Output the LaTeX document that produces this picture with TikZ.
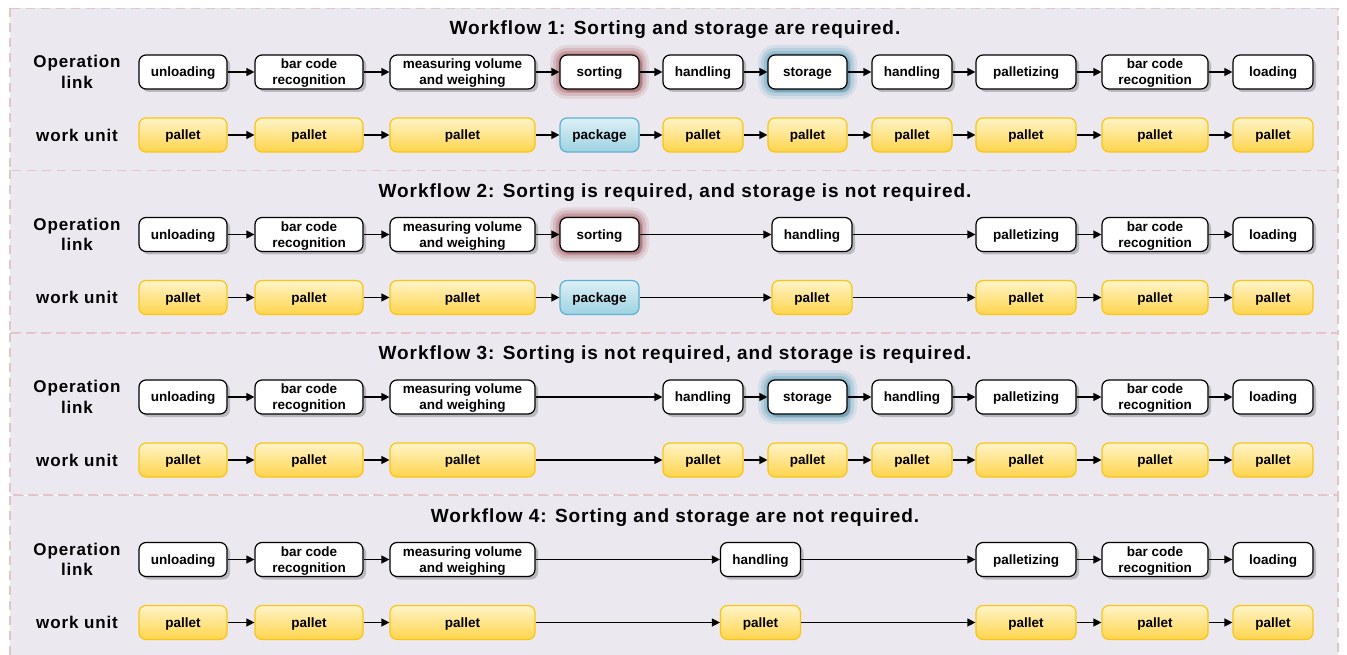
\documentclass[tikz,border=0pt]{standalone}
\usepackage{fontspec}
\setmainfont{Liberation Sans}
\newfontfamily\labfont[LetterSpace=5]{Liberation Sans}
\newfontfamily\ttlfont[LetterSpace=5]{Liberation Sans}
\usetikzlibrary{shadows,arrows.meta}

\definecolor{panelbg}{RGB}{235,232,240}
\definecolor{paneldash}{RGB}{228,196,198}
\definecolor{unittop}{RGB}{255,244,200}
\definecolor{unitbot}{RGB}{255,212,76}
\definecolor{unitline}{RGB}{250,196,20}
\definecolor{pkgtop}{RGB}{220,240,246}
\definecolor{pkgbot}{RGB}{158,210,226}
\definecolor{pkgline}{RGB}{92,178,208}
\definecolor{sortglow}{RGB}{160,70,70}
\definecolor{storeglow}{RGB}{60,145,175}

\tikzset{
  panel/.style={fill=panelbg, draw=paneldash, line width=1.2pt, dash pattern=on 9pt off 6pt},
  box/.style={rounded corners=7pt, minimum height=34pt, inner sep=2pt, align=center,
    text depth=0pt, font=\fontsize{13.5}{16}\selectfont\bfseries},
  op/.style={box, draw=black, line width=1.2pt, fill=white,
    drop shadow={shadow xshift=3pt, shadow yshift=-3pt, opacity=.3, fill=black!70}},
  unit/.style={box, draw=unitline, line width=1.2pt, top color=unittop, bottom color=unitbot},
  pkg/.style={box, draw=pkgline, line width=1.2pt, top color=pkgtop, bottom color=pkgbot},
  sortglow/.style={preaction={draw=sortglow, opacity=.12, line width=20pt},
    preaction={draw=sortglow, opacity=.18, line width=14pt},
    preaction={draw=sortglow, opacity=.25, line width=8pt},
    preaction={draw=sortglow, opacity=.3, line width=3pt}},
  storeglow/.style={preaction={draw=storeglow, opacity=.12, line width=20pt},
    preaction={draw=storeglow, opacity=.18, line width=14pt},
    preaction={draw=storeglow, opacity=.25, line width=8pt},
    preaction={draw=storeglow, opacity=.3, line width=3pt}},
  lab/.style={align=center, font=\labfont\fontsize{17}{20.5}\selectfont\bfseries},
  ttl/.style={font=\ttlfont\fontsize{19}{22}\selectfont\bfseries},
  flow/.style={line width=1.3pt, -{Triangle[length=8pt,width=8pt]}}
}

% one column: operation link on top, work unit below
\newcommand{\stage}[7]{%
  \node[op,#4,minimum width=#3pt] (#1-op) at (#2,72) {#5};
  \node[#6,minimum width=#3pt] (#1-wu) at (#2,135) {#7};
}

\begin{document}
\begin{tikzpicture}[x=1pt, y=-1pt]
  \useasboundingbox (0,0) rectangle (1347,655);

  % Workflow 1
  \begin{scope}
    \draw[panel] (10,8.5) rectangle (1338,170.5);
    \node[ttl] (t1) at (675,30) {Workflow 1: Sorting and storage are required.};
    \node[lab] (lop1) at (77,72) {Operation\\link};
    \node[lab] (lwu1) at (77,135) {work unit};
    \stage{a1}{183}{88}{}{unloading}{unit}{pallet}
    \stage{a2}{309}{108}{}{bar code\\recognition}{unit}{pallet}
    \stage{a3}{462.5}{145}{}{measuring volume\\and weighing}{unit}{pallet}
    \stage{a4}{599.5}{79}{sortglow}{sorting}{pkg}{package}
    \stage{a5}{703}{80}{}{handling}{unit}{pallet}
    \stage{a6}{807.5}{79}{storeglow}{storage}{unit}{pallet}
    \stage{a7}{912}{80}{}{handling}{unit}{pallet}
    \stage{a8}{1026}{100}{}{palletizing}{unit}{pallet}
    \stage{a9}{1155}{106}{}{bar code\\recognition}{unit}{pallet}
    \stage{a10}{1273}{80}{}{loading}{unit}{pallet}
    \foreach \i/\j in {1/2,2/3,3/4,4/5,5/6,6/7,7/8,8/9,9/10} {
      \draw[flow] (a\i-op) -- (a\j-op);
      \draw[flow] (a\i-wu) -- (a\j-wu);
    }
  \end{scope}

  % Workflow 2
  \begin{scope}[shift={(0,162.5)}]
    \draw[panel] (10,8) rectangle (1338,170.5);
    \node[ttl] (t2) at (675,30) {Workflow 2: Sorting is required, and storage is not required.};
    \node[lab] (lop2) at (77,72) {Operation\\link};
    \node[lab] (lwu2) at (77,135) {work unit};
    \stage{b1}{183}{88}{}{unloading}{unit}{pallet}
    \stage{b2}{309}{108}{}{bar code\\recognition}{unit}{pallet}
    \stage{b3}{462.5}{145}{}{measuring volume\\and weighing}{unit}{pallet}
    \stage{b4}{599.5}{79}{sortglow}{sorting}{pkg}{package}
    \stage{b5}{812}{80}{}{handling}{unit}{pallet}
    \stage{b8}{1026}{100}{}{palletizing}{unit}{pallet}
    \stage{b9}{1155}{106}{}{bar code\\recognition}{unit}{pallet}
    \stage{b10}{1273}{80}{}{loading}{unit}{pallet}
    \foreach \i/\j in {1/2,2/3,3/4,4/5,5/8,8/9,9/10} {
      \draw[flow] (b\i-op) -- (b\j-op);
      \draw[flow] (b\i-wu) -- (b\j-wu);
    }
  \end{scope}

  % Workflow 3
  \begin{scope}[shift={(0,325)}]
    \draw[panel] (10,8) rectangle (1338,170);
    \node[ttl] (t3) at (675,30) {Workflow 3: Sorting is not required, and storage is required.};
    \node[lab] (lop3) at (77,72) {Operation\\link};
    \node[lab] (lwu3) at (77,135) {work unit};
    \stage{c1}{183}{88}{}{unloading}{unit}{pallet}
    \stage{c2}{309}{108}{}{bar code\\recognition}{unit}{pallet}
    \stage{c3}{462.5}{145}{}{measuring volume\\and weighing}{unit}{pallet}
    \stage{c5}{703}{80}{}{handling}{unit}{pallet}
    \stage{c6}{807.5}{79}{storeglow}{storage}{unit}{pallet}
    \stage{c7}{912}{80}{}{handling}{unit}{pallet}
    \stage{c8}{1026}{100}{}{palletizing}{unit}{pallet}
    \stage{c9}{1155}{106}{}{bar code\\recognition}{unit}{pallet}
    \stage{c10}{1273}{80}{}{loading}{unit}{pallet}
    \foreach \i/\j in {1/2,2/3,3/5,5/6,6/7,7/8,8/9,9/10} {
      \draw[flow] (c\i-op) -- (c\j-op);
      \draw[flow] (c\i-wu) -- (c\j-wu);
    }
  \end{scope}

  % Workflow 4
  \begin{scope}[shift={(0,487.5)}]
    \draw[panel] (10,8) rectangle (1338,172);
    \node[ttl] (t4) at (675,30) {Workflow 4: Sorting and storage are not required.};
    \node[lab] (lop4) at (77,72) {Operation\\link};
    \node[lab] (lwu4) at (77,135) {work unit};
    \stage{d1}{183}{88}{}{unloading}{unit}{pallet}
    \stage{d2}{309}{108}{}{bar code\\recognition}{unit}{pallet}
    \stage{d3}{462.5}{145}{}{measuring volume\\and weighing}{unit}{pallet}
    \stage{d5}{760.5}{80}{}{handling}{unit}{pallet}
    \stage{d8}{1026}{100}{}{palletizing}{unit}{pallet}
    \stage{d9}{1155}{106}{}{bar code\\recognition}{unit}{pallet}
    \stage{d10}{1273}{80}{}{loading}{unit}{pallet}
    \foreach \i/\j in {1/2,2/3,3/5,5/8,8/9,9/10} {
      \draw[flow] (d\i-op) -- (d\j-op);
      \draw[flow] (d\i-wu) -- (d\j-wu);
    }
  \end{scope}
\end{tikzpicture}
\end{document}
